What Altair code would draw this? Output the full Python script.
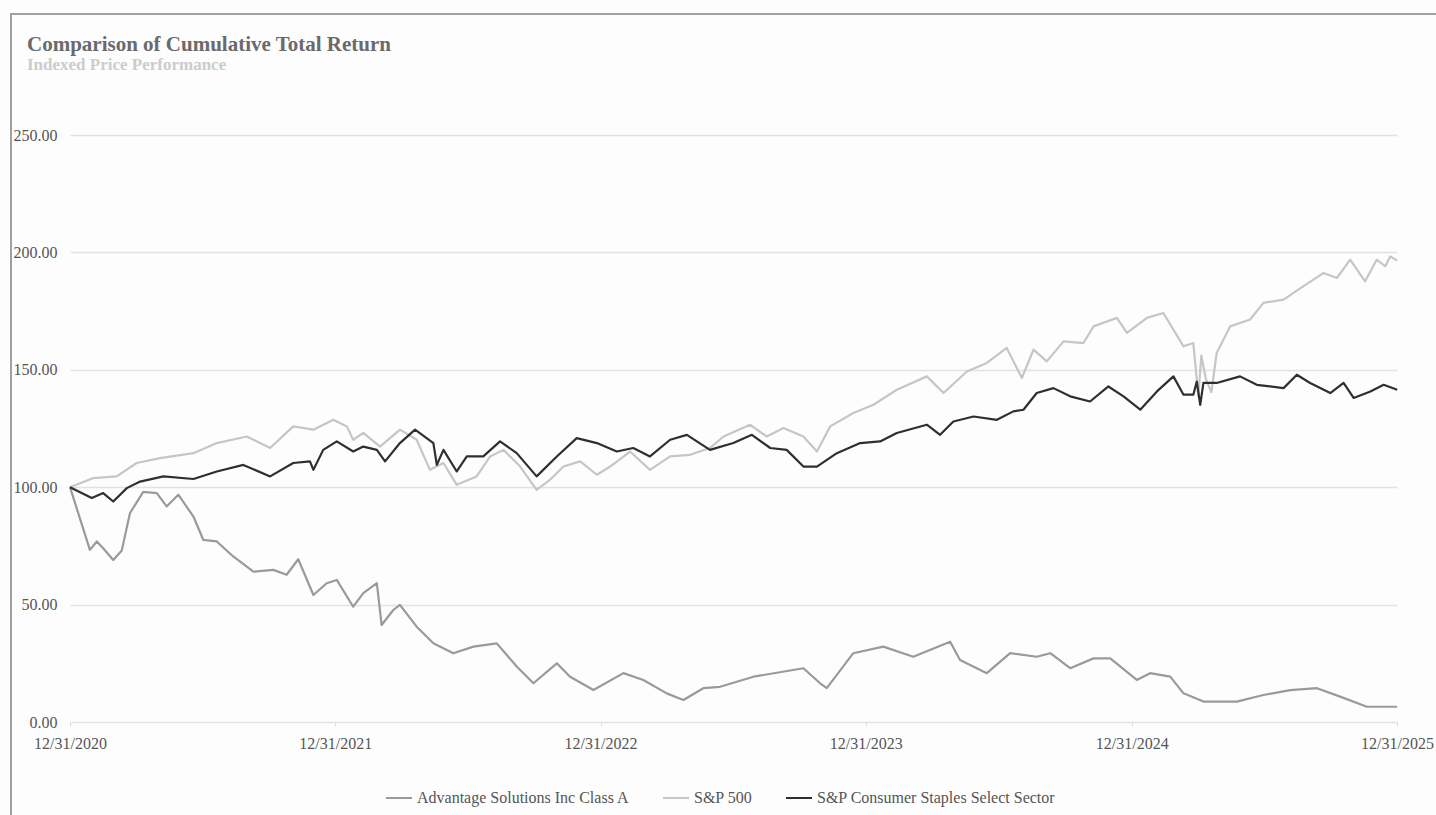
import altair as alt
import pandas as pd

# Years elapsed since 12/31/2020 and indexed values
adv_t = [0, 0.075, 0.101, 0.125, 0.163, 0.195, 0.226, 0.276, 0.327, 0.364, 0.408, 0.465, 0.502, 0.553, 0.615, 0.691, 0.766, 0.816, 0.860, 0.917, 0.967, 1.005, 1.067, 1.105, 1.156, 1.174, 1.218, 1.243, 1.306, 1.369, 1.444, 1.520, 1.608, 1.683, 1.746, 1.834, 1.884, 1.972, 2.085, 2.160, 2.248, 2.311, 2.386, 2.449, 2.575, 2.763, 2.826, 2.851, 2.951, 3.064, 3.177, 3.316, 3.353, 3.454, 3.542, 3.642, 3.693, 3.768, 3.856, 3.919, 4.019, 4.069, 4.145, 4.195, 4.270, 4.396, 4.496, 4.597, 4.698, 4.785, 4.886, 5.0]
adv_v = [100, 73.3, 76.9, 74.0, 69.0, 73.0, 89.0, 98.0, 97.5, 91.8, 96.8, 87.5, 77.6, 76.9, 70.5, 64.0, 64.8, 62.7, 69.3, 54.1, 59.1, 60.5, 49.1, 54.9, 59.1, 41.3, 47.7, 49.9, 40.6, 33.5, 29.3, 32.1, 33.5, 23.6, 16.5, 25.0, 19.3, 13.6, 20.8, 17.9, 12.2, 9.4, 14.4, 15.0, 19.3, 22.9, 16.5, 14.4, 29.3, 32.1, 27.8, 34.2, 26.4, 20.8, 29.3, 27.8, 29.3, 22.9, 27.1, 27.1, 17.9, 20.8, 19.3, 12.2, 8.7, 8.7, 11.5, 13.6, 14.4, 10.8, 6.5, 6.5]

spx_t = [0, 0.088, 0.176, 0.251, 0.339, 0.465, 0.553, 0.666, 0.754, 0.841, 0.917, 0.992, 1.043, 1.067, 1.105, 1.168, 1.243, 1.306, 1.356, 1.407, 1.457, 1.532, 1.583, 1.633, 1.696, 1.758, 1.809, 1.859, 1.922, 1.985, 2.035, 2.110, 2.185, 2.261, 2.336, 2.411, 2.462, 2.562, 2.625, 2.688, 2.763, 2.814, 2.864, 2.951, 3.027, 3.115, 3.228, 3.291, 3.379, 3.454, 3.529, 3.586, 3.630, 3.680, 3.743, 3.818, 3.856, 3.944, 3.982, 4.057, 4.119, 4.195, 4.232, 4.251, 4.262, 4.280, 4.300, 4.320, 4.371, 4.446, 4.496, 4.572, 4.647, 4.722, 4.773, 4.823, 4.879, 4.923, 4.955, 4.974, 5.0]
spx_v = [100, 103.9, 104.6, 110.3, 112.4, 114.5, 118.8, 121.6, 116.7, 125.9, 124.5, 128.7, 125.9, 120.2, 123.1, 117.3, 124.5, 120.2, 107.4, 110.3, 101.0, 104.6, 113.1, 115.9, 108.8, 98.9, 103.2, 108.8, 111.0, 105.3, 108.8, 115.2, 107.4, 113.1, 113.8, 116.7, 121.6, 126.6, 121.6, 125.2, 121.6, 115.2, 125.9, 131.6, 135.1, 141.5, 147.2, 140.1, 149.3, 152.9, 159.3, 146.5, 158.6, 153.6, 162.1, 161.4, 168.5, 172.1, 165.7, 172.1, 174.2, 160.0, 161.4, 138.7, 156.0, 145.8, 140.5, 157.2, 168.5, 171.4, 178.5, 179.9, 185.6, 191.2, 189.1, 196.9, 187.7, 196.9, 194.1, 198.3, 196.5]

stp_t = [0, 0.082, 0.125, 0.163, 0.214, 0.264, 0.352, 0.465, 0.553, 0.653, 0.754, 0.841, 0.904, 0.917, 0.954, 1.005, 1.067, 1.105, 1.156, 1.187, 1.243, 1.300, 1.369, 1.382, 1.407, 1.457, 1.495, 1.557, 1.620, 1.683, 1.758, 1.834, 1.909, 1.985, 2.060, 2.122, 2.185, 2.261, 2.324, 2.411, 2.499, 2.569, 2.638, 2.700, 2.763, 2.814, 2.889, 2.977, 3.052, 3.115, 3.228, 3.278, 3.328, 3.404, 3.492, 3.554, 3.592, 3.642, 3.705, 3.768, 3.843, 3.912, 3.969, 4.032, 4.095, 4.157, 4.195, 4.232, 4.245, 4.258, 4.270, 4.320, 4.408, 4.471, 4.572, 4.622, 4.672, 4.748, 4.798, 4.836, 4.899, 4.949, 5.0]
stp_v = [100, 95.4, 97.5, 93.9, 99.6, 102.4, 104.6, 103.5, 106.7, 109.5, 104.6, 110.3, 111.0, 107.4, 115.9, 119.5, 115.2, 117.3, 115.9, 111.0, 118.8, 124.5, 118.8, 109.5, 115.9, 106.7, 113.1, 113.1, 119.5, 114.5, 104.6, 113.1, 120.9, 118.8, 115.2, 116.7, 113.1, 120.2, 122.3, 115.9, 118.8, 122.3, 116.7, 115.9, 108.8, 108.8, 114.5, 118.8, 119.5, 123.1, 126.6, 122.3, 128.0, 130.1, 128.7, 132.3, 133.0, 140.1, 142.2, 138.7, 136.5, 142.9, 138.7, 133.0, 140.8, 147.2, 139.4, 139.4, 145.0, 135.1, 144.4, 144.4, 147.2, 143.6, 142.2, 147.9, 144.4, 140.1, 144.4, 138.0, 140.8, 143.6, 141.5]

series_names = ["Advantage Solutions Inc Class A", "S&P 500", "S&P Consumer Staples Select Sector"]
series_colors = ["#9a9a9a", "#c6c6c6", "#2f2f2f"]
y_ticks = [0, 50, 100, 150, 200, 250]
x_tick_years = [2020, 2021, 2022, 2023, 2024, 2025]

base_date = pd.Timestamp("2020-12-31")
rows = []
for name, ts, vs in zip(series_names, [adv_t, spx_t, stp_t], [adv_v, spx_v, stp_v]):
    for t, v in zip(ts, vs):
        d = base_date + pd.Timedelta(days=t * 365.25)
        rows.append({"series": name, "date": d.strftime("%Y-%m-%dT%H:%M:%S"), "value": v})
df = pd.DataFrame(rows)

FONT = "Liberation Serif"

lines = alt.Chart(df).mark_line(strokeWidth=2.2, strokeJoin="round").encode(
    x=alt.X("date:T",
            scale=alt.Scale(domain=[alt.DateTime(year=2020, month=12, date=31),
                                    alt.DateTime(year=2025, month=12, date=31)]),
            axis=alt.Axis(values=[alt.DateTime(year=y, month=12, date=31) for y in x_tick_years],
                          format="%m/%d/%Y", title=None, grid=False, domain=False,
                          ticks=True, tickSize=4, tickColor="#dddddd",
                          labelFlush=False, labelOverlap=False,
                          labelPadding=9, labelFontSize=16, labelColor="#555555",
                          labelFont=FONT)),
    y=alt.Y("value:Q",
            scale=alt.Scale(domain=[0, 250], nice=False),
            axis=alt.Axis(values=y_ticks, format=".2f", title=None, domain=False,
                          ticks=False, labelPadding=13, labelFontSize=16,
                          labelColor="#555555", labelFont=FONT,
                          gridColor="#e2e2e2", gridWidth=1.5)),
    color=alt.Color("series:N",
                    scale=alt.Scale(domain=series_names, range=series_colors),
                    legend=alt.Legend(title=None, orient="none", direction="horizontal",
                                      legendX=315, legendY=649,
                                      symbolType="stroke", symbolSize=676,
                                      symbolStrokeWidth=2, labelOffset=4,
                                      columnPadding=29, labelFontSize=16,
                                      labelColor="#555555", labelFont=FONT,
                                      labelLimit=400, padding=0)),
)

one = pd.DataFrame({"k": [0]})
frame_left = alt.Chart(one).mark_rule(color="#a0a0a0", strokeWidth=2).encode(
    x=alt.value(-59), y=alt.value(-121), y2=alt.value(700))
frame_top = alt.Chart(one).mark_rule(color="#a0a0a0", strokeWidth=2).encode(
    x=alt.value(-60), x2=alt.value(1380), y=alt.value(-121))

chart = alt.layer(lines, frame_left, frame_top).properties(
    width=1327, height=587,
    title=alt.TitleParams(
        "Comparison of Cumulative Total Return",
        subtitle="Indexed Price Performance",
        anchor="start", frame="group", dx=-43, dy=60, offset=0,
        font=FONT, fontSize=21, fontWeight="bold", color="#6a6a6a",
        subtitleFont=FONT, subtitleFontSize=17, subtitleFontWeight="bold",
        subtitleColor="#cccccc", subtitlePadding=2),
    autosize=alt.AutoSizeParams(type="none"),
    padding={"left": 70, "top": 135, "right": 39, "bottom": 93},
    background="#fdfdfd",
).configure_view(stroke=None)

chart.save("out.html", embed_options={"renderer": "svg", "actions": False})
